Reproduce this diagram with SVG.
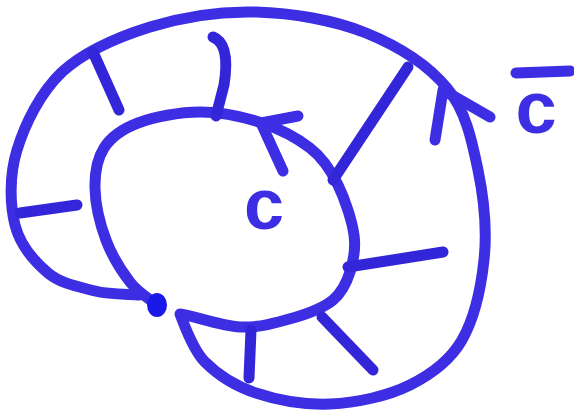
<svg xmlns="http://www.w3.org/2000/svg" width="574" height="413" viewBox="0 0 574 413">
<style>
.s{fill:none;stroke:#3d2ee3;stroke-width:11;stroke-linecap:round;stroke-linejoin:round}
.t{fill:none;stroke:#3326d8;stroke-width:11;stroke-linecap:round}
.lbl{font-family:"Liberation Sans",Arial,sans-serif;font-weight:bold;fill:#3d2ee3;text-anchor:middle}
</style>
<rect width="574" height="413" fill="#ffffff"/>
<g id="connectors">
<path id="spiral" class="s" d="M157,305 C152.5,301 138.5,293 130,282 C121.5,271 112,256 106,240 C100,224 95.3,203 95,188 C94.7,173 97,159 104,148 C111,137 122,129 138,123 C154,117 179,112 200,112 C221,112 244,117 262,123 C280,129 297,138 310,148 C323,158 331,170.5 338,185 C345,199.5 352,220.5 354,235 C356,249.5 353.5,261 350,272 C346.5,283 342.5,292 333,300 C323.5,308 308.5,313.5 293,318 C277.5,322.5 258.7,328 240,327 C221,326 191,315 180,314 C183,321 192,349 205,362 C218,375 235,386 256,393 C277,400 304,405 330,404 C356,403 388,396 410,385 C432,374 450,361 462,340 C474,319 481,288 484,260 C487,232 484,199 478,170 C472,141 466,111 447,88 C428,65 398,46 366,33 C334,20 292,13 256,12 C220,11 182,17 150,27 C118,37 84,52 62,72 C40,93 25,124 17,150 C9,176 10,205 15,225 C20,245 35,262 48,273 C61,284 80,287 95,291 C110,295 132,294 139,295"/>
<path id="arrow-inner" class="s" d="M298,116 L261,123 L283,171"/>
<path id="arrow-outer" class="s" d="M435,140 L443,90 L490,117"/>
<g id="ticks">
<path class="t" d="M93,52 L119,110"/>
<path class="t" d="M213,37 C226,42 228,60 224,85 L216,116"/>
<path class="t" d="M333,180 L408,67"/>
<path class="t" d="M20,213 L77,205"/>
<path class="t" d="M348,267 L443,252"/>
<path class="t" d="M322,317 L373,370"/>
<path class="t" d="M251,330 L249,378"/>
</g>
</g>
<g id="base-point">
<ellipse cx="157" cy="305" rx="10" ry="12" fill="#1a1ae8"/>
</g>
<g id="label-c">
<text class="lbl" x="264" y="229" font-size="72">c</text>
</g>
<g id="label-cbar">
<line x1="516" y1="73" x2="570" y2="71" class="s"/>
<text class="lbl" x="536" y="133" font-size="74">c</text>
</g>
</svg>
